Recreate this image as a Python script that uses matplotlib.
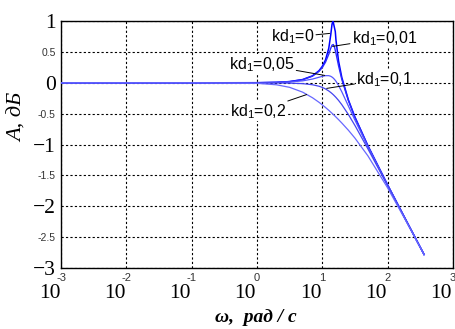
import matplotlib
matplotlib.use('Agg')
import matplotlib.pyplot as plt
import numpy as np

plt.rcParams['mathtext.default'] = 'regular'

# log10(omega) sample points
lw_pts = [-3, -1, 0, 0.3, 0.5, 0.7, 0.85, 0.95, 1.0, 1.05, 1.1, 1.13, 1.15,
          1.17, 1.19, 1.21, 1.25, 1.3, 1.4, 1.5, 1.7, 2.0, 2.3, 2.56]

# kd1 = 0 has its own points around the (clipped) resonance tip
lw_k0 = [-3, -1, 0, 0.3, 0.5, 0.7, 0.85, 0.95, 1.0, 1.05, 1.1, 1.13, 1.15,
         1.165, 1.2, 1.21, 1.25, 1.3, 1.4, 1.5, 1.7, 2.0, 2.3, 2.56]
A_k0 = [0, 0, 0.002, 0.008, 0.020, 0.053, 0.113, 0.196, 0.265, 0.372, 0.559,
        0.775, 0.95, 1.0, 0.83, 0.695, 0.352, 0.086, -0.275, -0.553, -1.020,
        -1.650, -2.258, -2.779]

A_k001 = [0, 0, 0.002, 0.008, 0.020, 0.051, 0.108, 0.185, 0.247, 0.335, 0.464,
          0.559, 0.610, 0.620, 0.570, 0.479, 0.276, 0.055, -0.285, -0.557,
          -1.022, -1.651, -2.258, -2.779]
A_k005 = [0, 0, 0.001, 0.005, 0.013, 0.032, 0.061, 0.090, 0.105, 0.116, 0.116,
          0.106, 0.093, 0.076, 0.053, 0.026, -0.043, -0.146, -0.374, -0.602,
          -1.036, -1.654, -2.259, -2.780]
A_k01 = [0, 0, 0, -0.002, -0.005, -0.013, -0.031, -0.055, -0.074, -0.099,
         -0.132, -0.156, -0.174, -0.193, -0.214, -0.236, -0.285, -0.354,
         -0.512, -0.689, -1.070, -1.662, -2.261, -2.780]
A_k02 = [0, 0, -0.008, -0.032, -0.073, -0.151, -0.241, -0.315, -0.356, -0.399,
         -0.445, -0.474, -0.493, -0.513, -0.533, -0.554, -0.596, -0.651,
         -0.767, -0.894, -1.183, -1.698, -2.270, -2.783]

labels = ['kd$_1$=0', 'kd$_1$=0,01', 'kd$_1$=0,05', 'kd$_1$=0,1', 'kd$_1$=0,2']
# (text x, text y, target x, target y)
label_pos = [(3.5, 0.74, 13.0, 0.80),
             (90, 0.72, 14.4, 0.59),
             (1.18, 0.30, 10.9, 0.12),
             (90, 0.057, 11.7, -0.09),
             (1.03, -0.46, 5.77, -0.19)]

yticks = [-3, -2.5, -2, -1.5, -1, -0.5, 0, 0.5, 1]
xtick_exp = [-3, -2, -1, 0, 1, 2, 3]

fig = plt.figure(figsize=(4.56, 3.29), dpi=100)
ax = fig.add_axes([0.134, 0.185, 0.859, 0.751])

series = [(lw_k0, A_k0, '#0000ff', 1.1),
          (lw_pts, A_k001, '#2a2aff', 1.0),
          (lw_pts, A_k005, '#5555ff', 0.9),
          (lw_pts, A_k01, '#4444f0', 0.9),
          (lw_pts, A_k02, '#6868ff', 0.9)]
for lx, a, c, w in series:
    ax.plot(10.0 ** np.array(lx), a, color=c, lw=w, zorder=3)

ax.set_xscale('log')
ax.set_xlim(1e-3, 1e3)
ax.set_ylim(-3, 1)
ax.set_xticks([10.0 ** e for e in xtick_exp])
ax.minorticks_off()
ax.set_xticklabels([])
ax.set_yticks(yticks)
ax.tick_params(length=0, pad=4)
ax.grid(True, color='black', linestyle=(0, (2, 2)), linewidth=0.8)
for s in ax.spines.values():
    s.set_linewidth(1.0)

ylabs = []
for v in yticks:
    if float(v).is_integer():
        ylabs.append(('\u2212' if v < 0 else '') + str(abs(int(v))))
    else:
        ylabs.append(str(v))
ax.set_yticklabels(ylabs)
for t, v in zip(ax.get_yticklabels(), yticks):
    if float(v).is_integer():
        t.set_fontfamily('Liberation Serif')
        t.set_fontsize(15.5)
    else:
        t.set_fontfamily('Liberation Sans')
        t.set_fontsize(7.5)
        t.set_color('#333333')

# x tick labels: big "10" with a small exponent above right
trans = ax.get_xaxis_transform()
for e in xtick_exp:
    xv = 10.0 ** e
    ax.text(xv, -0.038, str(e), transform=trans, ha='center', va='center',
            fontsize=8, family='Liberation Sans', color='#333333', clip_on=False)
    ax.text(xv / 1.03, -0.102, '10', transform=trans, ha='right', va='center',
            fontsize=15.5, family='Liberation Serif', clip_on=False)

fig.text(18 / 456, 1 - 117 / 329, 'A, дБ', family='Liberation Serif',
         style='italic', fontsize=16, rotation=90, ha='center', va='center')
fig.text(0.56, 0.035, 'ω,  рад / с', family='Liberation Serif',
         style='italic', fontweight='bold', fontsize=14, ha='center',
         va='center')

for lab, (tx, ty, px, py) in zip(labels, label_pos):
    ax.annotate(lab, xy=(px, py), xytext=(tx, ty), ha='center', va='center',
                fontsize=11.5, family='Liberation Sans', zorder=5,
                bbox=dict(fc='white', ec='none', pad=0.3),
                arrowprops=dict(arrowstyle='-', color='black', lw=0.7,
                                shrinkA=1, shrinkB=0))

fig.savefig('out.png', dpi=100)
